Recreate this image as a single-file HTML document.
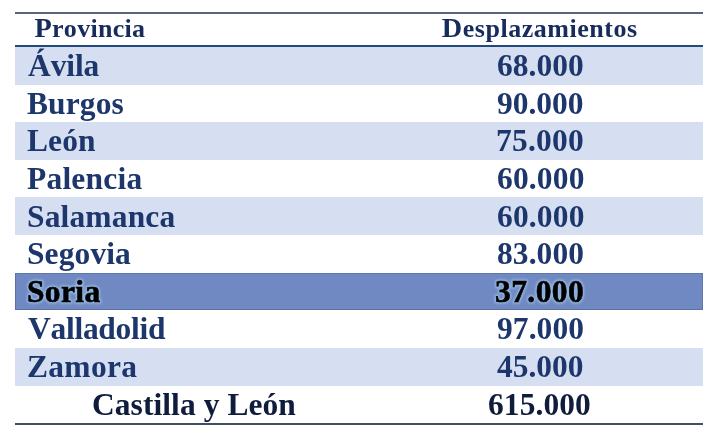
<!DOCTYPE html>
<html><head><meta charset="utf-8">
<style>
html,body{margin:0;padding:0;background:#fff;width:714px;height:434px;overflow:hidden;position:relative}
.ln{position:absolute;left:15.3px;width:688.2px}
.row{position:absolute;left:15.3px;width:688.2px}
.l{background:#d6dff1}
.s{background:#7089c2;box-shadow:inset 0 1px 0 #6175ad,inset 0 -1px 0 #5d6fa3,inset 1px 0 0 #5d6fa3,inset -1px 0 0 #6175ad}
.t{position:absolute;font-family:"Liberation Serif",serif;font-weight:bold;color:#1d376d;white-space:nowrap;line-height:1;font-kerning:none;transform:scaleX(1.016);transform-origin:0 0}
.n{font-size:31.00px}
.h{font-size:26.00px;color:#172c5c;transform:none}
.so{color:#000;-webkit-text-stroke:0.6px #000}
.gl{color:#b0dcfa;-webkit-text-stroke:3.2px #b0dcfa;filter:blur(0.9px);opacity:0.6}
.tot{color:#0f1c3c}
.cap{font-size:28.30px;line-height:0}
</style></head><body>

<div id="w" style="position:absolute;left:0;top:0;width:714px;height:434px;filter:blur(0.35px)">
<div class="ln" style="top:12.1px;height:1.7px;background:#55657a"></div>
<div class="row l" style="top:47.00px;height:37.60px"></div>
<div class="row l" style="top:122.20px;height:37.60px"></div>
<div class="row l" style="top:197.40px;height:37.60px"></div>
<div class="row l" style="top:348.4px;height:37.8px"></div>
<div class="row s" style="top:273.4px;height:37.1px"></div>
<div class="ln" style="top:44.8px;height:2.5px;background:#22497b"></div>
<div class="ln" style="top:423.1px;height:2px;background:#3f4f63"></div>
<span class="t h" style="left:34.50px;top:15.82px;letter-spacing:0.27px"><span class="cap">P</span>rovincia</span>
<span class="t h" style="left:441.80px;top:15.82px;letter-spacing:0.52px"><span class="cap">D</span>esplazamientos</span>
<span class="t n" style="left:27.80px;top:50.24px;letter-spacing:-0.10px">Ávila</span>
<span class="t n" style="left:496.80px;top:50.24px;letter-spacing:0.04px">68.000</span>
<span class="t n" style="left:26.80px;top:87.84px;letter-spacing:0.10px">Burgos</span>
<span class="t n" style="left:496.80px;top:87.84px;letter-spacing:-0.02px">90.000</span>
<span class="t n" style="left:27.10px;top:125.44px;letter-spacing:0.10px">León</span>
<span class="t n" style="left:496.30px;top:125.44px;letter-spacing:0.24px">75.000</span>
<span class="t n" style="left:27.00px;top:163.04px;letter-spacing:0.20px">Palencia</span>
<span class="t n" style="left:496.70px;top:163.04px;letter-spacing:0.16px">60.000</span>
<span class="t n" style="left:26.80px;top:200.64px;letter-spacing:0.15px">Salamanca</span>
<span class="t n" style="left:496.70px;top:200.64px;letter-spacing:0.16px">60.000</span>
<span class="t n" style="left:27.10px;top:238.24px;letter-spacing:0.10px">Segovia</span>
<span class="t n" style="left:496.80px;top:238.24px;letter-spacing:0.08px">83.000</span>
<span class="t n gl" style="left:26.50px;top:275.84px;letter-spacing:0.34px">Soria</span>
<span class="t n gl" style="left:495.30px;top:275.84px;letter-spacing:0.43px">37.000</span>
<span class="t n so" style="left:26.50px;top:275.84px;letter-spacing:0.34px">Soria</span>
<span class="t n so" style="left:495.30px;top:275.84px;letter-spacing:0.43px">37.000</span>
<span class="t n" style="left:27.70px;top:313.44px;letter-spacing:-0.27px">Valladolid</span>
<span class="t n" style="left:496.80px;top:313.44px;letter-spacing:0.08px">97.000</span>
<span class="t n" style="left:26.80px;top:351.04px;letter-spacing:0.29px">Zamora</span>
<span class="t n" style="left:497.30px;top:351.04px;letter-spacing:-0.04px">45.000</span>
<span class="t n tot" style="left:92.10px;top:389.24px;letter-spacing:0.06px">Castilla y León</span>
<span class="t n tot" style="left:488.30px;top:389.24px;letter-spacing:0.07px">615.000</span>
</div>
</body></html>
